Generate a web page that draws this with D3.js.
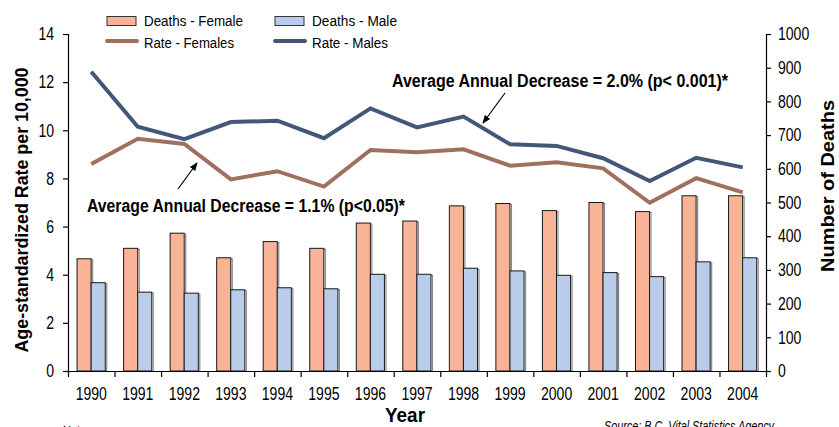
<!DOCTYPE html>
<html><head><meta charset="utf-8">
<script src="https://cdn.jsdelivr.net/npm/d3@7"></script>
<style>
body{margin:0;background:#fff;}
svg{display:block;font-family:"Liberation Sans",Arial,sans-serif;}
</style></head>
<body><svg id="c" width="839" height="427"></svg>
<script>
const years = ["1990","1991","1992","1993","1994","1995","1996","1997","1998","1999","2000","2001","2002","2003","2004"];
const deathsFemale = [333,364,409,336,384,364,439,445,490,497,476,500,473,520,520];
const deathsMale   = [262,234,231,241,247,244,287,287,305,297,284,292,280,324,336];
const rateFemales  = [8.60,9.65,9.43,7.96,8.30,7.66,9.18,9.09,9.21,8.53,8.67,8.42,6.99,8.01,7.42];
const rateMales    = [12.43,10.15,9.63,10.34,10.40,9.67,10.91,10.12,10.57,9.42,9.35,8.84,7.89,8.86,8.46];
const leftTicks  = [0,2,4,6,8,10,12,14];
const rightTicks = [0,100,200,300,400,500,600,700,800,900,1000];
const legendLabels = ["Deaths - Female","Deaths - Male","Rate - Females","Rate - Males"];
const annotations = ["Average Annual Decrease = 2.0% (p< 0.001)*","Average Annual Decrease = 1.1% (p<0.05)*"];

const C = {fF:"#f9b497", fM:"#b9cce9", lF:"#a0705f", lM:"#435879"};
const svg = d3.select("#c");
const L=68, R=766, T=34, B=371;

// squeeze a text horizontally to mimic a condensed face
function squeeze(sel, f){
  sel.each(function(){
    const w = this.getComputedTextLength();
    d3.select(this).attr("textLength", w*f).attr("lengthAdjust","spacingAndGlyphs");
  });
}
function fit(sel, w){ sel.attr("textLength", w).attr("lengthAdjust","spacingAndGlyphs"); }

const x = d3.scaleBand().domain(years).range([L,R]).paddingInner(0).paddingOuter(0);
const x1 = d3.scaleBand().domain(["F","M"]).range([x.bandwidth()*0.195, x.bandwidth()*0.8]).paddingInner(0);
const yL = d3.scaleLinear().domain([0,14]).range([B,T]);
const yR = d3.scaleLinear().domain([0,1000]).range([B,T]);

// bars
const g = svg.append("g");
const bars = [{k:"F",v:deathsFemale,c:C.fF},{k:"M",v:deathsMale,c:C.fM}];
bars.forEach(s=>{
  g.selectAll(null).data(years).join("rect")
    .attr("x",d=>x(d)+x1(s.k)+1.5).attr("y",(d,i)=>yR(s.v[i])+1)
    .attr("width",x1.bandwidth()).attr("height",(d,i)=>B-yR(s.v[i])-1)
    .attr("fill","none").attr("stroke","#8a8a8a").attr("stroke-width",1.2);
  g.selectAll(null).data(years).join("rect")
    .attr("x",d=>x(d)+x1(s.k)).attr("y",(d,i)=>yR(s.v[i]))
    .attr("width",x1.bandwidth()).attr("height",(d,i)=>B-yR(s.v[i]))
    .attr("fill",s.c).attr("stroke","#1a1a1a").attr("stroke-width",1);
});

// lines
const line = d3.line().x((d,i)=>x(years[i])+x.bandwidth()/2).y(d=>yL(d));
svg.append("path").datum(rateFemales).attr("d",line).attr("fill","none").attr("stroke",C.lF).attr("stroke-width",4);
svg.append("path").datum(rateMales).attr("d",line).attr("fill","none").attr("stroke",C.lM).attr("stroke-width",4);

// axes
const fs = "18px";
const aL = svg.append("g").attr("transform",`translate(${L},0)`)
  .call(d3.axisLeft(yL).tickValues(leftTicks).tickSize(5).tickPadding(9));
const aR = svg.append("g").attr("transform",`translate(${R},0)`)
  .call(d3.axisRight(yR).tickValues(rightTicks).tickFormat(d3.format("d")).tickSize(5).tickPadding(7));
const xb = d3.scaleLinear().domain([0,years.length]).range([L,R]);
const aX = svg.append("g").attr("transform",`translate(0,${B})`)
  .call(d3.axisBottom(xb).tickValues(d3.range(0,years.length+1)).tickSize(6).tickFormat(""));
aX.select(".domain").attr("d",`M${L-5},0.5H${R+5}`);
[aL,aR,aX].forEach(a=>{
  a.selectAll("path,line").attr("stroke","#000").attr("stroke-width",1.2);
  a.selectAll("text").attr("font-size",fs).attr("font-family","Liberation Sans").attr("fill","#000");
});
squeeze(aL.selectAll("text"),0.78);
squeeze(aR.selectAll("text"),0.78);
const xl = svg.append("g").selectAll("text").data(years).join("text")
  .attr("x",d=>x(d)+x.bandwidth()/2).attr("y",400).attr("text-anchor","middle")
  .attr("font-size",fs).text(d=>d);
squeeze(xl,0.78);

// axis titles
fit(svg.append("text").attr("transform","translate(28,210) rotate(-90)").attr("text-anchor","middle")
  .attr("font-size","19px").attr("font-weight","bold").text("Age-standardized Rate per 10,000"),285);
fit(svg.append("text").attr("transform","translate(834,186) rotate(-90)").attr("text-anchor","middle")
  .attr("font-size","19px").attr("font-weight","bold").text("Number of Deaths"),172);
fit(svg.append("text").attr("x",405).attr("y",422).attr("text-anchor","middle")
  .attr("font-size","21px").attr("font-weight","bold").text("Year"),40);
fit(svg.append("text").attr("x",604).attr("y",431).attr("font-size","14px").attr("font-style","italic").text("Source: B.C. Vital Statistics Agency"),170);
squeeze(svg.append("text").attr("x",62).attr("y",436).attr("font-size","14px").attr("font-style","italic").text("Note:"),0.8);

// legend
const lg = svg.append("g");
const lx = [107,275];
lg.append("rect").attr("x",lx[0]).attr("y",16.5).attr("width",29).attr("height",9).attr("fill",C.fF).attr("stroke","#333");
lg.append("rect").attr("x",lx[1]).attr("y",16.5).attr("width",29).attr("height",9).attr("fill",C.fM).attr("stroke","#333");
lg.append("line").attr("x1",lx[0]).attr("x2",lx[0]+30).attr("y1",41).attr("y2",41).attr("stroke",C.lF).attr("stroke-width",4).attr("stroke-linecap","round");
lg.append("line").attr("x1",lx[1]).attr("x2",lx[1]+30).attr("y1",41).attr("y2",41).attr("stroke",C.lM).attr("stroke-width",4).attr("stroke-linecap","round");
const legW = [99,85,90,76];
[[0,26],[1,26],[0,48],[1,48]].forEach((p,i)=>{
  fit(lg.append("text").attr("x",lx[p[0]]+37).attr("y",p[1]).attr("font-size","15.5px").text(legendLabels[i]),legW[i]);
});

// annotations
svg.append("defs").append("marker").attr("id","ah").attr("viewBox","0 0 10 10").attr("refX",9).attr("refY",5)
  .attr("markerWidth",7).attr("markerHeight",7).attr("orient","auto")
  .append("path").attr("d","M0,1L10,5L0,9z").attr("fill","#000");
fit(svg.append("text").attr("x",392).attr("y",87).attr("font-size","18px").attr("font-weight","bold").text(annotations[0]),336);
fit(svg.append("text").attr("x",87).attr("y",212).attr("font-size","18px").attr("font-weight","bold").text(annotations[1]),318);
svg.append("line").attr("x1",505).attr("y1",93).attr("x2",483).attr("y2",123).attr("stroke","#000").attr("stroke-width",1.2).attr("marker-end","url(#ah)");
svg.append("line").attr("x1",178).attr("y1",189).attr("x2",197).attr("y2",163).attr("stroke","#000").attr("stroke-width",1.2).attr("marker-end","url(#ah)");
</script></body></html>
